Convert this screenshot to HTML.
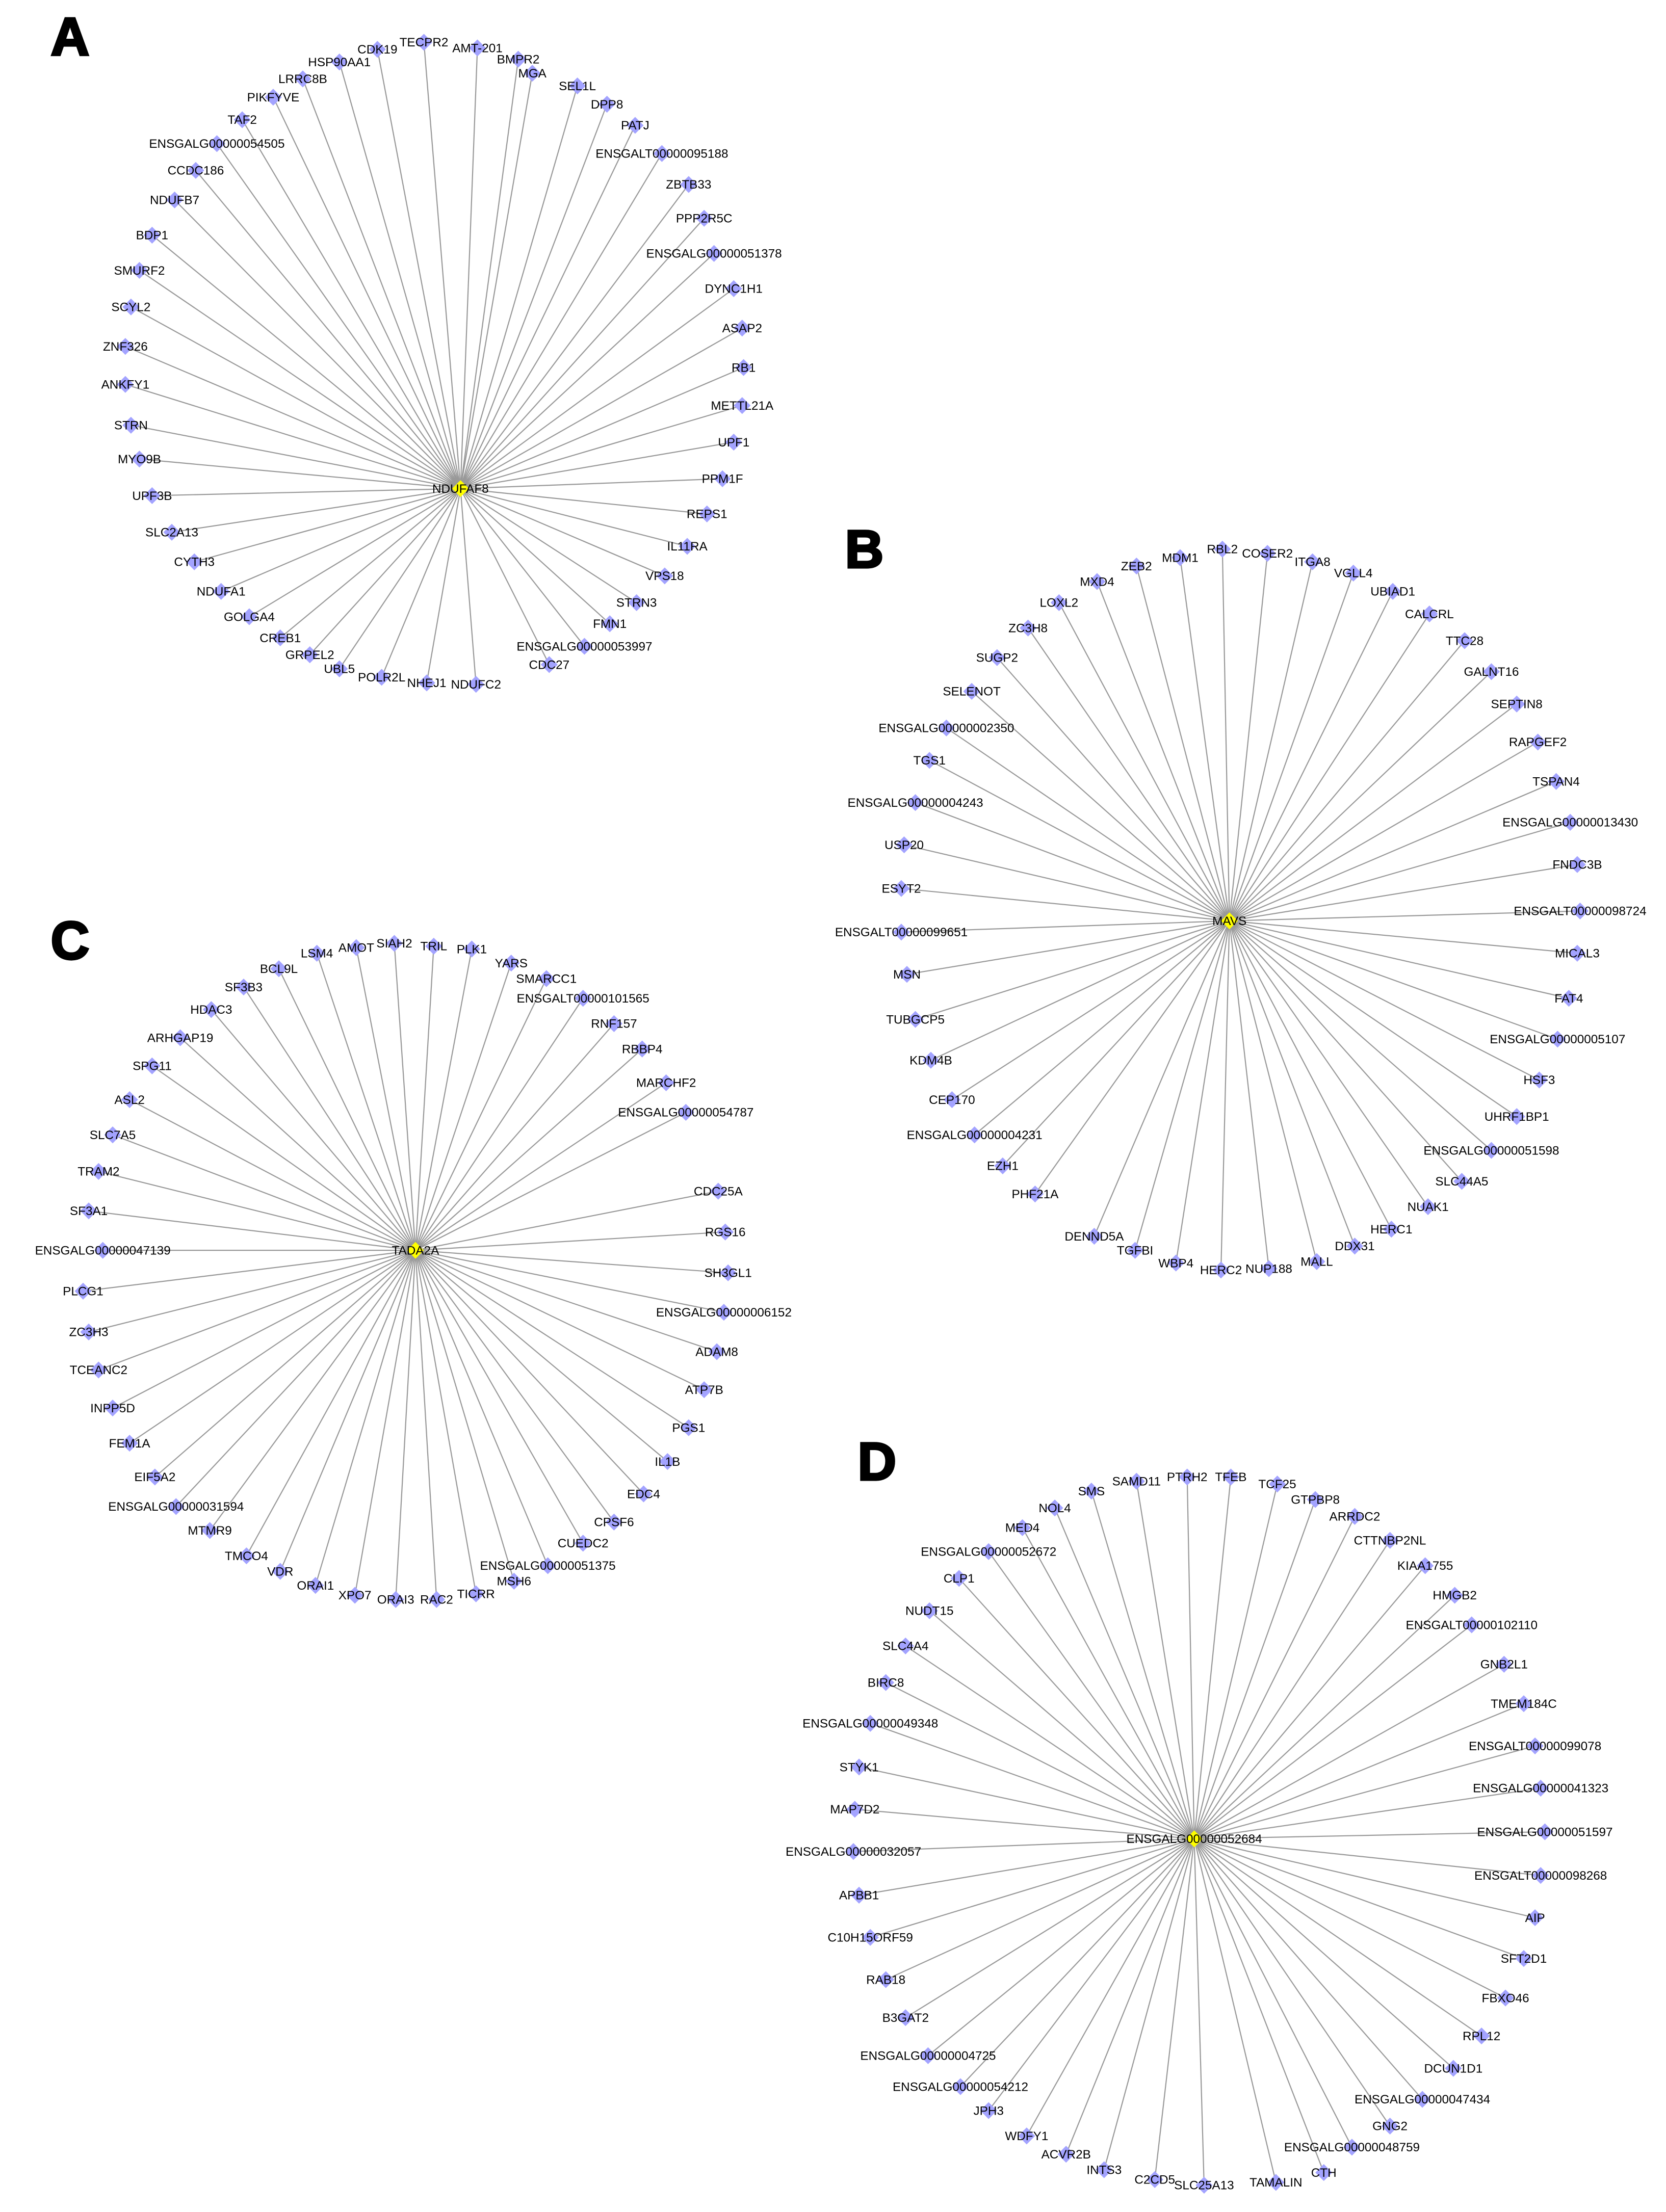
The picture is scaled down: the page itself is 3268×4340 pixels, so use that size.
<!DOCTYPE html>
<html><head><meta charset="utf-8"><style>html,body{margin:0;padding:0;background:#fff}svg{display:block}</style></head>
<body>
<svg id="s" xmlns="http://www.w3.org/2000/svg" width="3268" height="4340" viewBox="0 0 1183 1571">
<rect width="1183" height="1571" fill="#fff"/>
<g font-family="Liberation Sans, sans-serif" font-weight="900" font-size="38" fill="#000" stroke="#000" stroke-width="1.5">
<text x="36" y="39">A</text><text x="600" y="403">B</text><text x="36" y="681">C</text><text x="609" y="1051">D</text>
</g>
<g id="e" stroke="#999" stroke-width="0.8"></g>
<g id="n"></g>
</svg>
<script>
var G=[
{c:[327,347,"NDUFAF8"],n:[[301,30,"TECPR2"],[268,35,"CDK19"],[241,44,"HSP90AA1"],[215,56,"LRRC8B"],[194,69,"PIKFYVE"],[172,85,"TAF2"],[154,102,"ENSGALG00000054505"],[139,121,"CCDC186"],[124,142,"NDUFB7"],[108,167,"BDP1"],[99,192,"SMURF2"],[93,218,"SCYL2"],[89,246,"ZNF326"],[89,273,"ANKFY1"],[93,302,"STRN"],[99,326,"MYO9B"],[108,352,"UPF3B"],[122,378,"SLC2A13"],[138,399,"CYTH3"],[157,420,"NDUFA1"],[177,438,"GOLGA4"],[199,453,"CREB1"],[220,465,"GRPEL2"],[241,475,"UBL5"],[271,481,"POLR2L"],[303,485,"NHEJ1"],[338,486,"NDUFC2"],[390,472,"CDC27"],[415,459,"ENSGALG00000053997"],[433,443,"FMN1"],[452,428,"STRN3"],[472,409,"VPS18"],[488,388,"IL11RA"],[502,365,"REPS1"],[513,340,"PPM1F"],[521,314,"UPF1"],[527,288,"METTL21A"],[528,261,"RB1"],[527,233,"ASAP2"],[521,205,"DYNC1H1"],[507,180,"ENSGALG00000051378"],[500,155,"PPP2R5C"],[489,131,"ZBTB33"],[470,109,"ENSGALT00000095188"],[451,89,"PATJ"],[431,74,"DPP8"],[410,61,"SEL1L"],[378,52,"MGA"],[368,42,"BMPR2"],[339,34,"AMT-201"]]},
{c:[873,654,"MAVS"],n:[[868,390,"RBL2"],[900,393,"COSER2"],[932,399,"ITGA8"],[961,407,"VGLL4"],[989,420,"UBIAD1"],[1015,436,"CALCRL"],[1040,455,"TTC28"],[1059,477,"GALNT16"],[1077,500,"SEPTIN8"],[1092,527,"RAPGEF2"],[1105,555,"TSPAN4"],[1115,584,"ENSGALG00000013430"],[1120,614,"FNDC3B"],[1122,647,"ENSGALT00000098724"],[1120,677,"MICAL3"],[1114,709,"FAT4"],[1106,738,"ENSGALG00000005107"],[1093,767,"HSF3"],[1077,793,"UHRF1BP1"],[1059,817,"ENSGALG00000051598"],[1038,839,"SLC44A5"],[1014,857,"NUAK1"],[988,873,"HERC1"],[962,885,"DDX31"],[935,896,"MALL"],[901,901,"NUP188"],[867,902,"HERC2"],[835,897,"WBP4"],[806,888,"TGFBI"],[777,878,"DENND5A"],[735,848,"PHF21A"],[712,828,"EZH1"],[692,806,"ENSGALG00000004231"],[676,781,"CEP170"],[661,753,"KDM4B"],[650,724,"TUBGCP5"],[644,692,"MSN"],[640,662,"ENSGALT00000099651"],[640,631,"ESYT2"],[642,600,"USP20"],[650,570,"ENSGALG00000004243"],[660,540,"TGS1"],[672,517,"ENSGALG00000002350"],[690,491,"SELENOT"],[708,467,"SUGP2"],[730,446,"ZC3H8"],[752,428,"LOXL2"],[779,413,"MXD4"],[807,402,"ZEB2"],[838,396,"MDM1"]]},
{c:[295,888,"TADA2A"],n:[[253,673,"AMOT"],[280,670,"SIAH2"],[308,672,"TRIL"],[335,674,"PLK1"],[363,684,"YARS"],[388,695,"SMARCC1"],[414,709,"ENSGALT00000101565"],[436,727,"RNF157"],[456,745,"RBBP4"],[473,769,"MARCHF2"],[487,790,"ENSGALG00000054787"],[510,846,"CDC25A"],[515,875,"RGS16"],[517,904,"SH3GL1"],[514,932,"ENSGALG00000006152"],[509,960,"ADAM8"],[500,987,"ATP7B"],[489,1014,"PGS1"],[474,1038,"IL1B"],[457,1061,"EDC4"],[436,1081,"CPSF6"],[414,1096,"CUEDC2"],[389,1112,"ENSGALG00000051375"],[365,1123,"MSH6"],[338,1132,"TICRR"],[310,1136,"RAC2"],[281,1136,"ORAI3"],[252,1133,"XPO7"],[224,1126,"ORAI1"],[199,1116,"VDR"],[175,1105,"TMCO4"],[149,1087,"MTMR9"],[125,1070,"ENSGALG00000031594"],[110,1049,"EIF5A2"],[92,1025,"FEM1A"],[80,1000,"INPP5D"],[70,973,"TCEANC2"],[63,946,"ZC3H3"],[59,917,"PLCG1"],[73,888,"ENSGALG00000047139"],[63,860,"SF3A1"],[70,832,"TRAM2"],[80,806,"SLC7A5"],[92,781,"ASL2"],[108,757,"SPG11"],[128,737,"ARHGAP19"],[150,717,"HDAC3"],[173,701,"SF3B3"],[198,688,"BCL9L"],[225,677,"LSM4"]]},
{c:[848,1306,"ENSGALG00000052684"],n:[[843,1049,"PTRH2"],[874,1049,"TFEB"],[907,1054,"TCF25"],[934,1065,"GTPBP8"],[962,1077,"ARRDC2"],[987,1094,"CTTNBP2NL"],[1012,1112,"KIAA1755"],[1033,1133,"HMGB2"],[1045,1154,"ENSGALT00000102110"],[1068,1182,"GNB2L1"],[1082,1210,"TMEM184C"],[1090,1240,"ENSGALT00000099078"],[1094,1270,"ENSGALG00000041323"],[1097,1301,"ENSGALG00000051597"],[1094,1332,"ENSGALT00000098268"],[1090,1362,"AIP"],[1082,1391,"SFT2D1"],[1069,1419,"FBXO46"],[1052,1446,"RPL12"],[1032,1469,"DCUN1D1"],[1010,1491,"ENSGALG00000047434"],[987,1510,"GNG2"],[960,1525,"ENSGALG00000048759"],[940,1543,"CTH"],[906,1550,"TAMALIN"],[855,1552,"SLC25A13"],[820,1548,"C2CD5"],[784,1541,"INTS3"],[757,1530,"ACVR2B"],[729,1517,"WDFY1"],[702,1499,"JPH3"],[682,1482,"ENSGALG00000054212"],[659,1460,"ENSGALG00000004725"],[643,1433,"B3GAT2"],[629,1406,"RAB18"],[618,1376,"C10H15ORF59"],[610,1346,"APBB1"],[606,1315,"ENSGALG00000032057"],[607,1285,"MAP7D2"],[610,1255,"STYK1"],[618,1224,"ENSGALG00000049348"],[629,1195,"BIRC8"],[643,1169,"SLC4A4"],[660,1144,"NUDT15"],[681,1121,"CLP1"],[702,1102,"ENSGALG00000052672"],[726,1085,"MED4"],[749,1071,"NOL4"],[775,1059,"SMS"],[807,1052,"SAMD11"]]}
];
var NS="http://www.w3.org/2000/svg",E=document.getElementById("e"),N=document.getElementById("n");
function el(t,a,p){var x=document.createElementNS(NS,t);for(var k in a)x.setAttribute(k,a[k]);p.appendChild(x);return x;}
function node(x,y,l,col){var h=6;el("polygon",{points:(x)+","+(y-h)+" "+(x+h)+","+y+" "+x+","+(y+h)+" "+(x-h)+","+y,fill:col},N);
var t=el("text",{x:x,y:y+3,"text-anchor":"middle","font-family":"Liberation Sans, sans-serif","font-size":"8.8",fill:"#000"},N);t.textContent=l;}
G.forEach(function(g){var c=g.c;g.n.forEach(function(p){el("line",{x1:c[0],y1:c[1],x2:p[0],y2:p[1]},E);});
g.n.forEach(function(p){node(p[0],p[1],p[2],"#a3a3ff");});node(c[0],c[1],c[2],"#ffff00");});
</script>
</body></html>
